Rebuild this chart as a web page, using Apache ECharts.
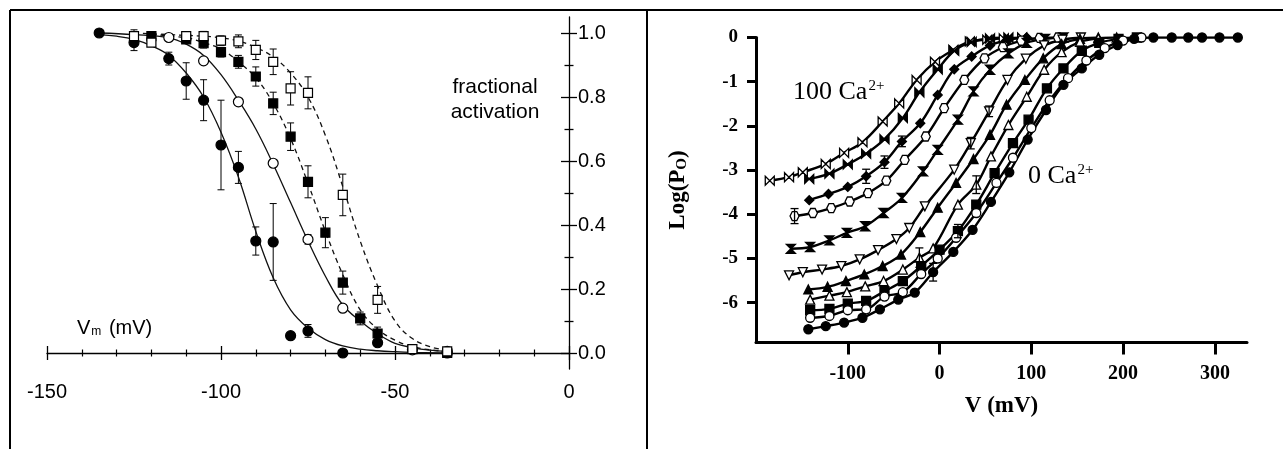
<!DOCTYPE html>
<html>
<head>
<meta charset="utf-8">
<script src="https://cdn.jsdelivr.net/npm/echarts@6/dist/echarts.min.js"></script>
<style>
  html, body { margin: 0; padding: 0; background: #fff; }
  #chart { width: 1283px; height: 449px; }
</style>
</head>
<body>
<div id="chart"></div>
<script>
// ---- left panel: fractional activation vs Vm ([mV, value, sem]) ----
const filledCircles = [
  [-135, 1.0, 0], [-125, 0.97, 0.025], [-115, 0.92, 0.02], [-110, 0.85, 0.057], [-105, 0.79, 0.064],
  [-100, 0.65, 0.14], [-95, 0.58, 0.05], [-90, 0.35, 0.044], [-85, 0.347, 0.12], [-80, 0.054, 0],
  [-75, 0.069, 0.02], [-65, 0.0, 0], [-55, 0.032, 0.01], [-35, 0.0, 0]
];
const openCircles = [
  [-115, 0.986, 0.005], [-105, 0.913, 0.01], [-95, 0.785, 0.01], [-85, 0.593, 0.01],
  [-75, 0.355, 0.015], [-65, 0.14, 0.01], [-45, 0.01, 0], [-35, 0.005, 0]
];
const filledSquares = [
  [-120, 0.99, 0.01], [-110, 0.98, 0.01], [-105, 0.968, 0.015], [-100, 0.94, 0.015], [-95, 0.91, 0.02],
  [-90, 0.864, 0.03], [-85, 0.78, 0.035], [-80, 0.676, 0.043], [-75, 0.535, 0.05], [-70, 0.376, 0.047],
  [-65, 0.22, 0.036], [-60, 0.108, 0.02], [-55, 0.061, 0.02], [-35, 0.0, 0]
];
const openSquares = [
  [-125, 0.99, 0.02], [-120, 0.97, 0.01], [-110, 0.99, 0.01], [-105, 0.99, 0.015], [-100, 0.976, 0.015],
  [-95, 0.974, 0.02], [-90, 0.947, 0.03], [-85, 0.91, 0.04], [-80, 0.827, 0.052], [-75, 0.813, 0.05],
  [-65, 0.494, 0.065], [-55, 0.166, 0.042], [-45, 0.012, 0.005], [-35, 0.005, 0]
];
// fitted curves
const filledCircleFit = [
  [-135, 0.995], [-130, 0.99], [-125, 0.98], [-120, 0.96], [-115, 0.93], [-110, 0.875], [-105, 0.8],
  [-100, 0.69], [-95, 0.55], [-90, 0.38], [-85, 0.235], [-80, 0.135], [-75, 0.078], [-70, 0.042],
  [-65, 0.022], [-60, 0.012], [-55, 0.007], [-50, 0.004], [-45, 0.002], [-35, 0.0]
];
const openCircleFit = [
  [-135, 1.0], [-125, 0.995], [-115, 0.985], [-110, 0.965], [-105, 0.93], [-100, 0.87], [-95, 0.79],
  [-90, 0.7], [-85, 0.59], [-80, 0.47], [-75, 0.35], [-70, 0.24], [-65, 0.15], [-60, 0.1],
  [-55, 0.06], [-50, 0.03], [-45, 0.017], [-40, 0.009], [-35, 0.005]
];
const filledSquareFit = [
  [-120, 0.995], [-110, 0.985], [-105, 0.97], [-100, 0.95], [-95, 0.91], [-90, 0.86], [-85, 0.78],
  [-80, 0.67], [-75, 0.53], [-70, 0.38], [-65, 0.245], [-60, 0.135], [-55, 0.075], [-50, 0.04],
  [-45, 0.02], [-40, 0.01], [-35, 0.005]
];
const openSquareFit = [
  [-125, 1.0], [-115, 0.995], [-105, 0.99], [-100, 0.985], [-95, 0.975], [-90, 0.955], [-85, 0.925],
  [-80, 0.875], [-75, 0.8], [-70, 0.68], [-65, 0.52], [-60, 0.35], [-55, 0.21], [-50, 0.1],
  [-45, 0.045], [-40, 0.02], [-35, 0.008]
];
const leftMajorTicks = [0, 0.2, 0.4, 0.6, 0.8, 1.0];
const leftMinorTicks = [0.1, 0.3, 0.5, 0.7, 0.9];

// ---- right panel: Log(Po) vs V, 100 Ca2+ (left) to 0 Ca2+ (right) ----
const openBowtie = [
  [-185, -3.24], [-164, -3.16], [-149, -3.05], [-124, -2.86], [-104, -2.61], [-84, -2.37], [-62, -1.9],
  [-44, -1.49], [-25, -0.96], [-5, -0.55], [15, -0.28], [33, -0.09], [52, -0.05], [70, -0.02], [90, 0]
];
const filledBowtie = [
  [-142, -3.2], [-120, -3.08], [-100, -2.87], [-80, -2.63], [-60, -2.3], [-40, -1.82], [-22, -1.24],
  [-2, -0.72], [16, -0.3], [35, -0.1], [55, -0.02], [75, 0]
];
const filledDiamond = [
  [-142, -3.68], [-121, -3.54], [-100, -3.38], [-80, -3.14], [-60, -2.82], [-41, -2.35], [-21, -1.94],
  [-2, -1.3], [16, -0.72], [35, -0.43], [55, -0.18], [75, -0.05], [95, 0]
];
const openHexagon = [
  [-158, -4.04], [-138, -3.97], [-118, -3.86], [-98, -3.71], [-78, -3.52], [-58, -3.24], [-38, -2.77],
  [-15, -2.24], [5, -1.6], [27, -0.96], [49, -0.47], [69, -0.22], [89, -0.07], [109, -0.01], [129, 0]
];
const filledHourglass = [
  [-162, -4.78], [-141, -4.74], [-120, -4.59], [-101, -4.42], [-81, -4.27], [-61, -3.97], [-41, -3.63],
  [-18, -3.03], [-2, -2.54], [20, -1.86], [37, -1.22], [55, -0.73], [75, -0.36], [95, -0.12], [115, -0.03], [135, 0]
];
const openDownTriangle = [
  [-164, -5.38], [-149, -5.31], [-128, -5.25], [-107, -5.17], [-87, -5.02], [-67, -4.81], [-47, -4.56],
  [-33, -4.31], [-16, -3.82], [16, -2.99], [34, -2.39], [54, -1.67], [74, -0.96], [94, -0.48],
  [114, -0.18], [134, -0.05], [154, 0]
];
const filledTriangle = [
  [-143, -5.7], [-122, -5.64], [-102, -5.51], [-82, -5.36], [-62, -5.17], [-42, -4.91], [-21, -4.4],
  [-2, -3.85], [18, -3.29], [37, -2.75], [55, -2.2], [73, -1.52], [93, -0.96], [113, -0.47],
  [133, -0.15], [153, -0.03], [173, 0]
];
const openTriangle = [
  [-141, -5.93], [-120, -5.84], [-101, -5.76], [-81, -5.63], [-61, -5.51], [-40, -5.25], [-22, -4.98],
  [-7, -4.77], [20, -3.78], [40, -3.33], [56, -2.69], [75, -1.98], [95, -1.34], [114, -0.73],
  [133, -0.33], [153, -0.1], [173, -0.02], [193, 0]
];
const filledSquare = [
  [-141, -6.17], [-120, -6.14], [-100, -6.02], [-80, -5.96], [-60, -5.74], [-40, -5.51], [-20, -5.17],
  [0, -4.8], [20, -4.38], [40, -3.78], [60, -3.07], [80, -2.39], [97, -1.86], [117, -1.15],
  [135, -0.7], [155, -0.3], [174, -0.12], [195, -0.03], [215, 0]
];
const openCircle = [
  [-141, -6.34], [-120, -6.3], [-100, -6.17], [-80, -6.15], [-60, -5.86], [-40, -5.76], [-20, -5.35],
  [-2, -5.0], [18, -4.53], [40, -3.97], [62, -3.29], [80, -2.72], [100, -2.05], [120, -1.42],
  [140, -0.92], [160, -0.52], [180, -0.24], [200, -0.07], [220, 0]
];
const filledCircle = [
  [-143, -6.6], [-124, -6.53], [-104, -6.45], [-84, -6.34], [-65, -6.15], [-45, -5.93], [-27, -5.77],
  [-7, -5.31], [15, -4.85], [36, -4.35], [56, -3.72], [76, -3.05], [96, -2.31], [116, -1.64],
  [135, -1.07], [155, -0.7], [174, -0.39], [194, -0.17], [212, -0.03], [233, 0], [253, 0],
  [271, 0], [286, 0], [305, 0], [325, 0]
];
const rightErrors = [
  [-158, -4.04, 0.17], [-80, -3.14, 0.16], [-60, -2.82, 0.14], [-41, -2.35, 0.12],
  [-22, -4.98, 0.22], [-7, -5.31, 0.2], [40, -3.33, 0.2], [20, -4.38, 0.15],
  [34, -2.39, 0.13], [54, -1.67, 0.12]
];
const rightXTicks = [-100, 0, 100, 200, 300];
const rightYTicks = [0, -1, -2, -3, -4, -5, -6];

const SANS = 'Liberation Sans';
const SERIF = 'Liberation Serif';
const ink = '#000';

const BOWTIE = 'path://M0,0L5,5L0,10ZM10,0L5,5L10,10Z';
const HOURGLASS = 'path://M0,0L10,0L5,5ZM0,10L5,5L10,10Z';
const HEXAGON = 'path://M2.5,0L7.5,0L10,5L7.5,10L2.5,10L0,5Z';

function errorBars(capHalf, width) {
  return function (params, api) {
    const x = api.value(0);
    const y = api.value(1);
    const e = api.value(2);
    const hi = api.coord([x, y + e]);
    const lo = api.coord([x, y - e]);
    const style = { stroke: ink, lineWidth: width };
    return {
      type: 'group',
      children: [
        { type: 'line', shape: { x1: hi[0], y1: hi[1], x2: lo[0], y2: lo[1] }, style },
        { type: 'line', shape: { x1: hi[0] - capHalf, y1: hi[1], x2: hi[0] + capHalf, y2: hi[1] }, style },
        { type: 'line', shape: { x1: lo[0] - capHalf, y1: lo[1], x2: lo[0] + capHalf, y2: lo[1] }, style }
      ]
    };
  };
}

// left panel series
const leftSeries = [];
[
  [filledCircles, 'circle', ink, 10],
  [openCircles, 'circle', '#fff', 10],
  [filledSquares, 'rect', ink, 9],
  [openSquares, 'rect', '#fff', 9]
].forEach(([rows, symbol, fill, size]) => {
  leftSeries.push({
    type: 'custom',
    xAxisIndex: 0, yAxisIndex: 0,
    renderItem: errorBars(3.5, 1),
    encode: { x: 0, y: 1 },
    data: rows.filter((r) => r[2] > 0),
    z: 2, silent: true
  });
  leftSeries.push({
    type: 'scatter',
    xAxisIndex: 0, yAxisIndex: 0,
    symbol, symbolSize: size,
    itemStyle: { color: fill, borderColor: ink, borderWidth: 1.2, opacity: 1 },
    data: rows.map((r) => [r[0], r[1]]),
    z: 4, silent: true
  });
});
[
  [filledCircleFit, 'solid'],
  [openCircleFit, 'solid'],
  [filledSquareFit, [5, 4]],
  [openSquareFit, [5, 4]]
].forEach(([rows, dash]) => {
  leftSeries.push({
    type: 'line',
    xAxisIndex: 0, yAxisIndex: 0,
    data: rows, smooth: 0.4, symbol: 'none',
    lineStyle: { color: '#111', width: 1.3, type: dash },
    z: 3, silent: true
  });
});

// right panel series
const rightSeries = [
  [openBowtie, BOWTIE, '#fff', 0],
  [filledBowtie, BOWTIE, ink, 0],
  [filledDiamond, 'diamond', ink, 0],
  [openHexagon, HEXAGON, '#fff', 0],
  [filledHourglass, HOURGLASS, ink, 0],
  [openDownTriangle, 'triangle', '#fff', 180],
  [filledTriangle, 'triangle', ink, 0],
  [openTriangle, 'triangle', '#fff', 0],
  [filledSquare, 'rect', ink, 0],
  [openCircle, 'circle', '#fff', 0],
  [filledCircle, 'circle', ink, 0]
].map(([rows, symbol, fill, rotate]) => ({
  type: 'line',
  xAxisIndex: 2, yAxisIndex: 4,
  data: rows, smooth: 0.35,
  symbol, symbolSize: 9, symbolRotate: rotate, showAllSymbol: true,
  lineStyle: { color: ink, width: 2.4 },
  itemStyle: { color: fill, borderColor: ink, borderWidth: 1.3 },
  z: 3, silent: true
}));
rightSeries.push({
  type: 'custom',
  xAxisIndex: 2, yAxisIndex: 4,
  renderItem: errorBars(4, 1.3),
  encode: { x: 0, y: 1 },
  data: rightErrors,
  z: 4, silent: true
});

const thin = { color: ink, width: 1.3 };
const leftX = (inside, labels) => ({
  gridIndex: 0, type: 'value', min: -150, max: 0, interval: 50, position: 'bottom',
  axisLine: { show: labels, onZero: true, onZeroAxisIndex: 0, lineStyle: thin },
  axisTick: { show: true, inside, length: 7, lineStyle: thin },
  minorTick: { show: true, splitNumber: 5, length: 3.5, lineStyle: { color: ink, width: 1.2 } },
  axisLabel: { show: labels, margin: 13, fontSize: 20, fontFamily: SANS, color: ink },
  splitLine: { show: false }
});
const leftY = (values, inside, len, labels) => ({
  gridIndex: 0, type: 'value', min: -0.05, max: 1.05, position: 'right',
  axisLine: { show: labels, onZero: false, lineStyle: thin },
  axisTick: { show: true, inside, length: len, customValues: values, lineStyle: thin },
  axisLabel: {
    show: labels, customValues: values, margin: 9, fontSize: 20, fontFamily: SANS, color: ink,
    formatter: (v) => v.toFixed(1)
  },
  splitLine: { show: false }
});

const chart = echarts.init(document.getElementById('chart'), null, { renderer: 'canvas' });
chart.setOption({
  animation: false,
  backgroundColor: '#fff',
  grid: [
    { left: 47, top: 17, width: 522, height: 352 },
    { left: 756, top: 37.5, width: 491, height: 305 }
  ],
  xAxis: [
    leftX(false, true),
    leftX(true, false),
    {
      gridIndex: 1, type: 'value', min: -200, max: 335, position: 'bottom',
      axisLine: { show: true, onZero: false, lineStyle: { color: ink, width: 3 } },
      axisTick: { show: true, length: 12, customValues: rightXTicks, lineStyle: { color: ink, width: 3 } },
      axisLabel: {
        customValues: rightXTicks, margin: 21, fontSize: 20, fontWeight: 'bold', fontFamily: SERIF, color: ink
      },
      splitLine: { show: false },
      name: 'V (mV)', nameLocation: 'middle', nameGap: 52,
      nameTextStyle: { fontSize: 23, fontWeight: 'bold', fontFamily: SERIF, color: ink }
    }
  ],
  yAxis: [
    leftY(leftMajorTicks, false, 8, true),
    leftY(leftMajorTicks, true, 8, false),
    leftY(leftMinorTicks, false, 4.5, false),
    leftY(leftMinorTicks, true, 4.5, false),
    {
      gridIndex: 1, type: 'value', min: -6.9, max: 0, position: 'left',
      axisLine: { show: true, onZero: false, lineStyle: { color: ink, width: 3 } },
      axisTick: { show: true, length: 9, customValues: rightYTicks, lineStyle: { color: ink, width: 3 } },
      axisLabel: {
        customValues: rightYTicks, margin: 18, fontSize: 19, fontWeight: 'bold', fontFamily: SERIF, color: ink
      },
      splitLine: { show: false },
      name: '{a|Log(P}{b|O}{a|)}', nameLocation: 'middle', nameGap: 66, nameRotate: 90,
      nameTextStyle: {
        color: ink,
        rich: {
          a: { fontSize: 23, fontWeight: 'bold', fontFamily: SERIF, color: ink, lineHeight: 26, verticalAlign: 'bottom' },
          b: { fontSize: 15, fontWeight: 'bold', fontFamily: SERIF, color: ink, lineHeight: 15, padding: [12, 0, 0, 0], verticalAlign: 'bottom' }
        }
      }
    }
  ],
  graphic: [
    { type: 'line', shape: { x1: 10, y1: 10, x2: 1283, y2: 10 }, style: { stroke: ink, lineWidth: 2 } },
    { type: 'line', shape: { x1: 10, y1: 10, x2: 10, y2: 449 }, style: { stroke: ink, lineWidth: 2 } },
    { type: 'line', shape: { x1: 647, y1: 10, x2: 647, y2: 449 }, style: { stroke: ink, lineWidth: 2 } },
    {
      type: 'text', x: 495, y: 100,
      style: {
        text: 'fractional\nactivation', align: 'center', verticalAlign: 'middle',
        fontSize: 21, fontFamily: SANS, lineHeight: 25, fill: ink
      }
    },
    {
      type: 'text', x: 77, y: 326,
      style: {
        text: '{v|V}{m|m}{v| (mV)}', verticalAlign: 'middle', fill: ink,
        rich: {
          v: { fontSize: 20, fontFamily: SANS, fill: ink, lineHeight: 24, verticalAlign: 'bottom' },
          m: { fontSize: 12, fontFamily: SANS, fill: ink, lineHeight: 12, padding: [14, 2, 0, 1], verticalAlign: 'bottom' }
        }
      }
    },
    {
      type: 'text', x: 793, y: 93,
      style: {
        text: '{a|100 Ca}{s|2+}', verticalAlign: 'middle', fill: ink,
        rich: {
          a: { fontSize: 26, fontFamily: SERIF, fill: ink, lineHeight: 28, verticalAlign: 'top' },
          s: { fontSize: 15, fontFamily: SERIF, fill: ink, lineHeight: 15, padding: [0, 0, 14, 1], verticalAlign: 'top' }
        }
      }
    },
    {
      type: 'text', x: 1028, y: 177,
      style: {
        text: '{a|0 Ca}{s|2+}', verticalAlign: 'middle', fill: ink,
        rich: {
          a: { fontSize: 26, fontFamily: SERIF, fill: ink, lineHeight: 28, verticalAlign: 'top' },
          s: { fontSize: 15, fontFamily: SERIF, fill: ink, lineHeight: 15, padding: [0, 0, 14, 1], verticalAlign: 'top' }
        }
      }
    }
  ],
  series: leftSeries.concat(rightSeries)
});
</script>
</body>
</html>
